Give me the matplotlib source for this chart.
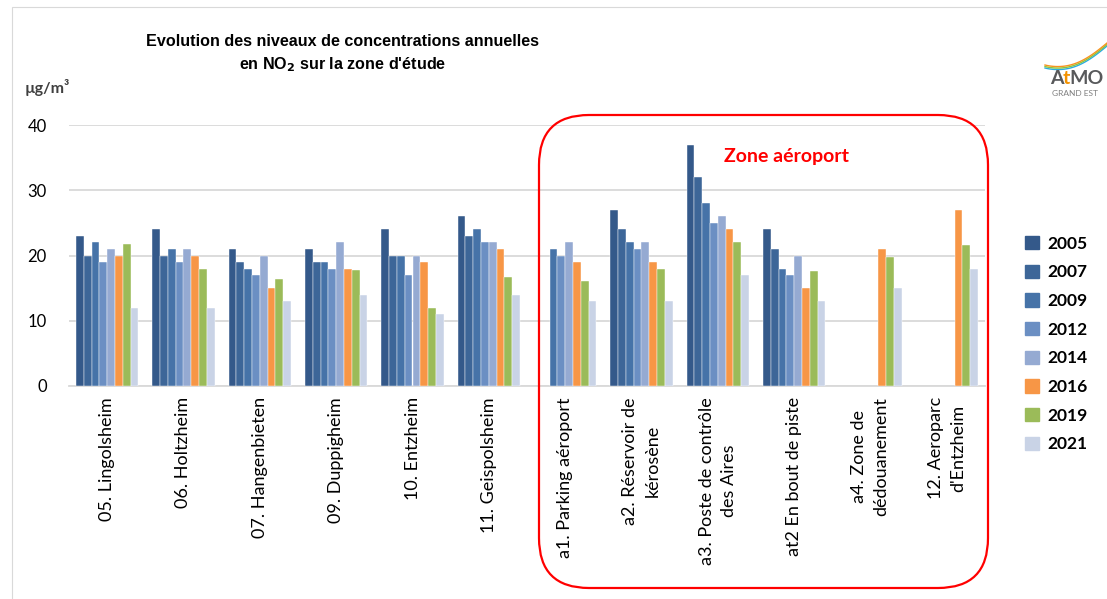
import numpy as np
import matplotlib
matplotlib.use('Agg')
import matplotlib.pyplot as plt
import matplotlib.patches as mpatches
from matplotlib.patches import FancyBboxPatch

nan = np.nan

sites = ['05. Lingolsheim', '06. Holtzheim', '07. Hangenbieten', '09. Duppigheim',
         '10. Entzheim', '11. Geispolsheim', 'a1. Parking aéroport',
         'a2. Réservoir de\nkérosène', 'a3. Poste de contrôle\ndes Aires',
         'at2 En bout de piste', 'a4. Zone de\ndédouanement', '12. Aeroparc\nd\'Entzheim']

years = ['2005', '2007', '2009', '2012', '2014', '2016', '2019', '2021']

v2005 = [23, 24, 21, 21, 24, 26, nan, 27, 37, 24, nan, nan]
v2007 = [20, 20, 19, 19, 20, 23, nan, 24, 32, 21, nan, nan]
v2009 = [22, 21, 18, 19, 20, 24, 21, 22, 28, 18, nan, nan]
v2012 = [19, 19, 17, 18, 17, 22, 20, 21, 25, 17, nan, nan]
v2014 = [21, 21, 20, 22, 20, 22, 22, 22, 26, 20, nan, nan]
v2016 = [20, 20, 15, 18, 19, 21, 19, 19, 24, 15, 21, 27]
v2019 = [21.8, 18, 16.4, 17.8, 12, 16.7, 16.1, 18, 22, 17.6, 19.7, 21.6]
v2021 = [12, 12, 13, 14, 11, 14, 13, 13, 17, 13, 15, 18]

values = [v2005, v2007, v2009, v2012, v2014, v2016, v2019, v2021]
colors = ['#34598a', '#3d6698', '#4673a8', '#6b8fc3', '#95aad2', '#f79646', '#9bbb59', '#c9d3e6']

W, H = 1107, 599
fig = plt.figure(figsize=(W / 100, H / 100), dpi=100)
ax = fig.add_axes([69 / W, 1 - 386 / H, (985 - 69) / W, (386 - 125) / H])

x = np.arange(len(sites))
bw = 0.102
for i, (vals, c) in enumerate(zip(values, colors)):
    ax.bar(x + (i - 3.5) * bw, vals, width=bw, color=c, edgecolor='white',
           linewidth=0.3, zorder=3)

ax.set_xlim(-0.5, len(sites) - 0.5)
ax.set_ylim(0, 40)
ax.set_yticks([0, 10, 20, 30, 40])
ax.yaxis.grid(True, color='#d9d9d9', linewidth=1.3, zorder=0)
ax.tick_params(axis='y', length=0, pad=16, labelsize=12, labelcolor='#000000')
ax.tick_params(axis='x', length=0, pad=8)
for s in ['top', 'right', 'left']:
    ax.spines[s].set_visible(False)
ax.spines['bottom'].set_color('#d9d9d9')
ax.spines['bottom'].set_linewidth(1.3)
ax.set_xticks(x)
ax.set_xticklabels(sites, rotation=90, ha='center', va='top', multialignment='center',
                   fontsize=13, fontfamily='Lato', linespacing=1.5)
for lab in ax.get_yticklabels():
    lab.set_fontfamily('Lato')

# title
tfont = dict(ha='center', va='center', fontsize=11.6, fontweight='bold',
             fontfamily='Liberation Sans')
fig.text(343 / W, 1 - 42 / H, 'Evolution des niveaux de concentrations annuelles', **tfont)
fig.text(343 / W, 1 - 65 / H, 'en NO$_\\mathbf{2}$ sur la zone d\'étude', **tfont)
fig.text(25 / W, 1 - 88 / H, 'µg/m³', ha='left', va='center', fontsize=11.5,
         fontweight='bold', color='#404040', fontfamily='Lato')

# legend
handles = [mpatches.Patch(color=c, label=y) for y, c in zip(years, colors)]
leg = fig.legend(handles=handles, loc='upper left', bbox_to_anchor=(1009 / W, 1 - 220 / H),
                 frameon=False, handlelength=0.8, handleheight=0.8, handletextpad=0.5,
                 labelspacing=0.73, prop={'family': 'Lato', 'weight': 'bold', 'size': 12.5})

# zone aeroport box
box = FancyBboxPatch((5.39, 0.11), 4.49, 4.73, boxstyle='round,pad=0,rounding_size=0.5',
                     transform=fig.dpi_scale_trans, fill=False, edgecolor='#ff0000',
                     linewidth=1.6, zorder=10)
fig.patches.append(box)
fig.text(787 / W, 1 - 156 / H, 'Zone aéroport', ha='center', va='center', fontsize=14,
         fontweight='bold', color='#ff0000', fontfamily='Lato')

# outer frame
frame = mpatches.Rectangle((12 / W, -0.1), 1.2, 1 - 7 / H + 0.1, transform=fig.transFigure,
                           fill=False, edgecolor='#d9d9d9', linewidth=0.8)
fig.patches.append(frame)

# logo
fig.text(1050 / W, 1 - 79 / H, 'A', ha='left', va='center', fontsize=14, fontweight='bold',
         color='#58595b', fontfamily='Lato')
fig.text(1063 / W, 1 - 79 / H, 't', ha='left', va='center', fontsize=14, fontweight='bold',
         color='#f39200', fontfamily='Lato')
fig.text(1069 / W, 1 - 79 / H, 'MO', ha='left', va='center', fontsize=14, fontweight='bold',
         color='#58595b', fontfamily='Lato')
fig.text(1052 / W, 1 - 93 / H, 'GRAND EST', ha='left', va='center', fontsize=6,
         color='#7f7f7f', fontfamily='Lato')
tt = np.linspace(0, 1, 30)
for dy, c in [(0, '#29abe2'), (3, '#8cc63f'), (6, '#f7931e')]:
    xs = (1045 + tt * 62) / W
    ys = 1 - (68 - dy * 0.5 - 22 * tt ** 1.5 + 6 * np.sin(np.pi * tt)) / H
    fig.lines.append(plt.Line2D(xs, ys, transform=fig.transFigure, color=c, linewidth=1))

fig.savefig('out.png', dpi=100)
